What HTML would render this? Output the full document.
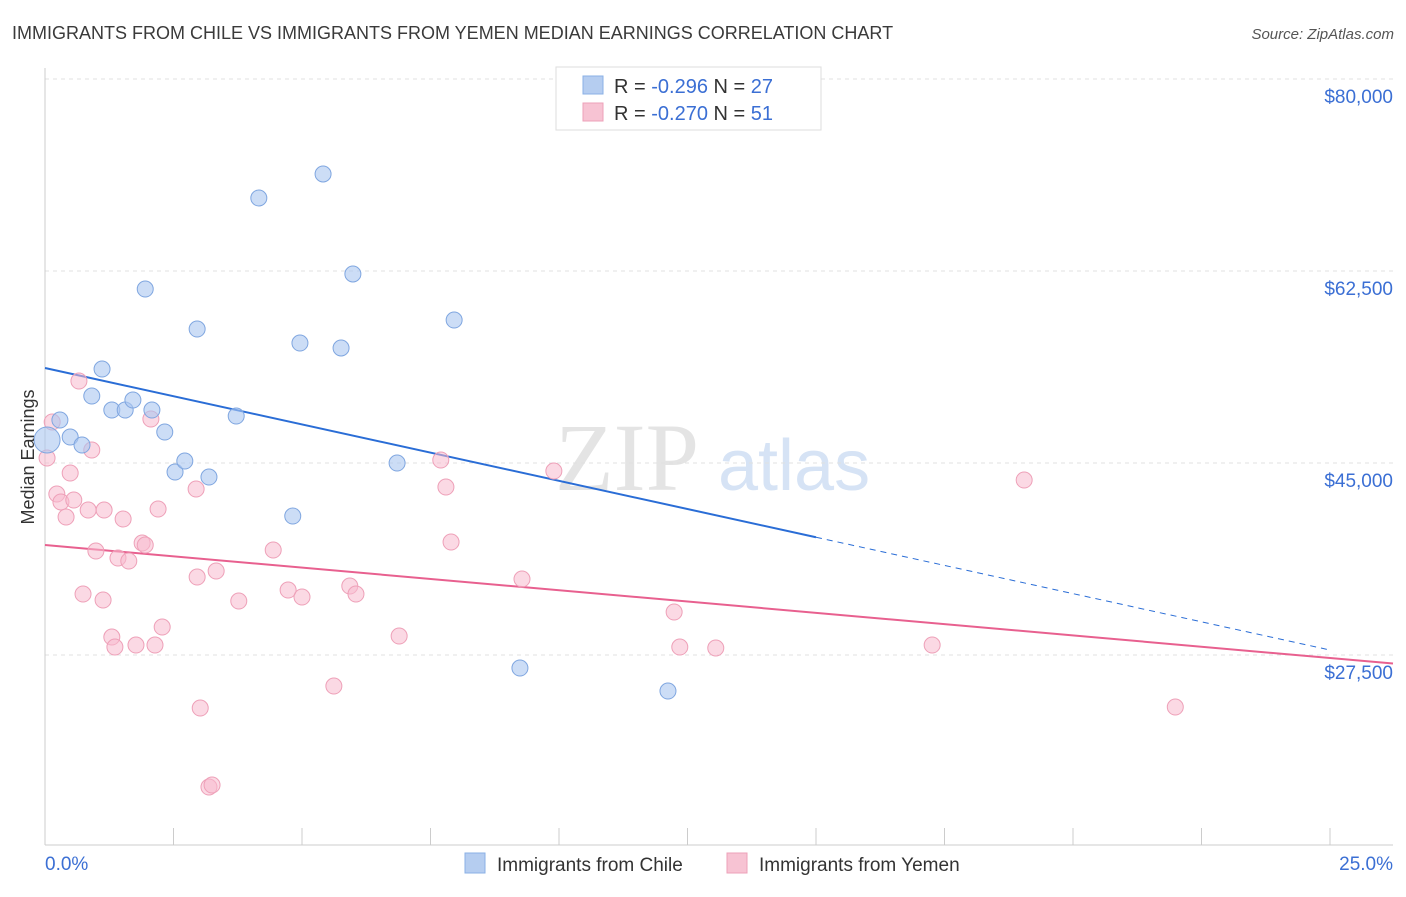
<!DOCTYPE html>
<html><head><meta charset="utf-8"><style>
body{margin:0;background:#fff;font-family:"Liberation Sans",sans-serif;}
</style></head><body>
<svg id="chart" width="1406" height="892" xmlns="http://www.w3.org/2000/svg" font-family="Liberation Sans, sans-serif">
<text x="12" y="39" font-size="18" fill="#3a3a3a">IMMIGRANTS FROM CHILE VS IMMIGRANTS FROM YEMEN MEDIAN EARNINGS CORRELATION CHART</text>
<text x="1394" y="39" font-size="15" fill="#555" text-anchor="end" font-style="italic">Source: ZipAtlas.com</text>
<g><text x="555" y="490" font-size="96" fill="#e4e4e4" font-family="Liberation Serif, serif">ZIP</text><text x="718" y="490" font-size="72" fill="#d6e3f5">atlas</text></g>
<g id="grid"></g><g id="axes"></g><g id="trend"></g><g id="points"></g>
<text transform="translate(34,457) rotate(-90)" font-size="18" fill="#333" text-anchor="middle">Median Earnings</text>
<g>
<rect x="556" y="67" width="265" height="63" fill="#fff" stroke="#ddd"/>
<rect x="583" y="76" width="20" height="18" fill="#b5cdf0" stroke="#8ab0e6"/>
<rect x="583" y="103" width="20" height="18" fill="#f7c3d3" stroke="#eea0b8"/>
<text x="614" y="93" font-size="20" fill="#333">R = <tspan fill="#3b6fd4">-0.296</tspan>   N = <tspan fill="#3b6fd4">27</tspan></text>
<text x="614" y="120" font-size="20" fill="#333">R = <tspan fill="#3b6fd4">-0.270</tspan>   N = <tspan fill="#3b6fd4"> 51</tspan></text>
</g>
<g>
<rect x="465" y="853" width="20" height="20" fill="#b5cdf0" stroke="#8ab0e6"/>
<text x="497" y="871" font-size="19" fill="#333">Immigrants from Chile</text>
<rect x="727" y="853" width="20" height="20" fill="#f7c3d3" stroke="#eea0b8"/>
<text x="759" y="871" font-size="19" fill="#333">Immigrants from Yemen</text>
</g>
</svg>
<script>
const yTicks=[80000,62500,45000,27500];
const yTickLabels=["$80,000","$62,500","$45,000","$27,500"];
const xTicks=[0,2.5,5,7.5,10,12.5,15,17.5,20,22.5,25];
const chileX=[0.04,0.29,0.49,0.72,0.91,1.11,1.30,1.56,1.71,1.95,2.08,2.33,2.53,2.72,2.96,3.19,3.72,4.16,4.82,4.96,5.41,5.76,5.99,6.85,7.96,9.24,12.12];
const chileY=[47095,48918,47368,46639,51105,53566,49829,49829,50741,60858,49829,47824,44178,45181,57212,43722,49282,69153,40167,55936,71341,55481,62226,44998,58033,26313,24216];
const yemenX=[0.04,0.14,0.23,0.31,0.41,0.49,0.56,0.66,0.74,0.84,0.91,0.99,1.13,1.15,1.30,1.36,1.42,1.52,1.63,1.77,1.89,1.95,2.06,2.14,2.20,2.28,2.94,2.96,3.02,3.19,3.25,3.33,3.77,4.44,4.73,5.00,5.62,5.93,6.05,6.89,7.70,7.80,7.90,9.28,9.90,12.24,12.35,13.05,17.26,19.05,21.99];
const yemenY=[45454,48736,42173,41444,40076,44087,41626,52473,33058,40714,46183,36977,32511,40714,29138,28227,36339,39894,36066,28409,37706,37524,49009,28409,40806,30050,42628,34607,22667,15466,15648,35154,32420,37068,33422,32784,24672,33787,33058,29229,45272,42811,37798,34425,44269,31417,28227,28136,28409,43449,22758];
const chileTrend=[53658,27953];
const yemenTrend=[37524,27225];
const NS="http://www.w3.org/2000/svg";
const X=v=>45+v/25*1285;
const Y=v=>79+(80000-v)*192/17500;
function mk(tag,attrs,parent){const e=document.createElementNS(NS,tag);for(const k in attrs)e.setAttribute(k,attrs[k]);document.getElementById(parent).appendChild(e);return e;}
yTicks.forEach((t,i)=>{
  const l=mk('line',{x1:45,x2:1393,y1:Y(t),y2:Y(t),stroke:'#e0e0e0','stroke-dasharray':'4,4'},'grid');
  
  
  const tx=mk('text',{x:1393,y:Y(t)+24,'font-size':19,fill:'#3b6fd4','text-anchor':'end'},'grid');
  tx.textContent=yTickLabels[i];
  
  
});
const ax=mk('line',{x1:45,x2:45,y1:68,y2:845,stroke:'#ccc'},'axes');


const bx=mk('line',{x1:45,x2:1393,y1:845,y2:845,stroke:'#ccc'},'axes');


xTicks.forEach(t=>{
  const l=mk('line',{x1:X(t),x2:X(t),y1:828,y2:845,stroke:'#ccc'},'axes');
  
  
});
const xl0=mk('text',{x:45,y:870,'font-size':19,fill:'#3b6fd4'},'axes');xl0.textContent='0.0%';


const xl1=mk('text',{x:1393,y:870,'font-size':19,fill:'#3b6fd4','text-anchor':'end'},'axes');xl1.textContent='25.0%';


// trends
const cy=x=>chileTrend[0]+(chileTrend[1]-chileTrend[0])*x/25;
const t1=mk('line',{x1:X(0),y1:Y(cy(0)),x2:X(15),y2:Y(cy(15)),stroke:'#2a6dd6','stroke-width':2},'trend');


const t2=mk('line',{x1:X(15),y1:Y(cy(15)),x2:X(25),y2:Y(cy(25)),stroke:'#2a6dd6','stroke-width':1,'stroke-dasharray':'6,5'},'trend');


const yy=x=>yemenTrend[0]+(yemenTrend[1]-yemenTrend[0])*x/25;
const xe=(1393-45)/1285*25;
const t3=mk('line',{x1:X(0),y1:Y(yy(0)),x2:X(xe),y2:Y(yy(xe)),stroke:'#e8608f','stroke-width':2},'trend');


yemenX.forEach((x,i)=>{
  const c=mk('circle',{cx:X(x),cy:Y(yemenY[i]),r:8,fill:'rgba(247,185,205,0.55)',stroke:'#eea0b8','stroke-width':1},'points');
  
  
});
chileX.forEach((x,i)=>{
  const c=mk('circle',{cx:X(x),cy:Y(chileY[i]),r:i===0?13:8,fill:'rgba(170,198,240,0.6)',stroke:'#7fa6e0','stroke-width':1},'points');
  
  
});
</script>
</body></html>
